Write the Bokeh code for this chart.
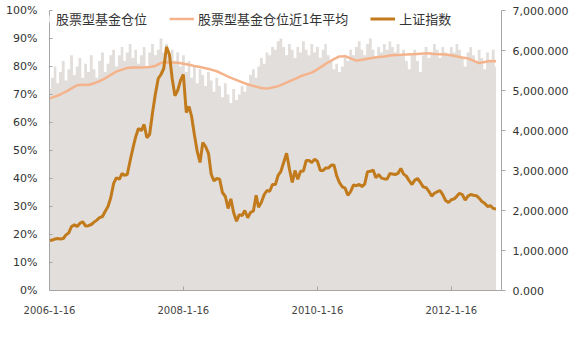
import pandas as pd
from bokeh.plotting import figure
from bokeh.models import (Range1d, LinearAxis, NumeralTickFormatter, FixedTicker,
                          Legend, LegendItem, ColumnDataSource)
from bokeh.embed import file_html
from bokeh.resources import INLINE

# ---------------- data ----------------
semi_dates = pd.date_range("2006-01-16", "2012-09-16", freq="SMS-16")
month_dates = pd.date_range("2006-01-16", "2012-09-16", freq=pd.DateOffset(months=1))

# 股票型基金仓位 (%), semi-monthly
position = [
    72, 76, 80, 74, 78, 82, 75, 79, 84, 77, 80, 83, 76, 81, 78, 84, 79, 76, 82, 85, 78, 81, 84,
    86, 80, 84, 87, 82, 85, 88, 83, 86, 81, 84, 87, 80, 85, 88, 84, 86, 90, 85, 88, 83, 86, 82, 85,
    80, 84, 78, 82, 76, 80, 74, 79, 77, 73, 78, 75, 71, 76, 73, 69, 74, 70, 67, 72, 68, 70, 73, 71,
    74, 77, 79, 76, 80, 83, 81, 85, 84, 87, 86, 89, 90, 87, 84, 88, 86, 83, 87, 85, 89, 86, 84, 88,
    85, 87, 83, 86, 88, 84, 82, 79, 81, 78, 80, 84, 82, 86, 84, 87, 89, 86, 84, 88, 90, 86, 83, 87,
    85, 88, 86, 89, 87, 85, 88, 84, 86, 82, 79, 84, 86, 82, 78, 84, 87, 83, 85, 88, 86, 83, 87, 85,
    84, 87, 85, 88, 86, 83, 80, 85, 87, 84, 82, 86, 83, 79, 85, 82, 86, 80,
]

# 上证指数, semi-monthly
sse = [
    1250, 1260, 1290, 1300, 1290, 1300, 1390, 1440, 1600, 1640, 1600, 1680, 1720,
    1610, 1620, 1650, 1710, 1760, 1820, 1850, 1980, 2100, 2320,
    2680, 2820, 2780, 2930, 2880, 2900, 3250, 3560, 3840, 4050, 4000, 4150,
    3820, 3900, 4450, 4900, 5300, 5400, 5550, 6090, 5900, 5300, 4870, 5000,
    5260, 5400, 4450, 4600, 4350, 3900, 3470, 3200, 3700, 3600, 3430, 2900,
    2740, 2800, 2780, 2450, 2350, 2050, 2290, 1950, 1730, 1900, 1870, 2000,
    1820, 1950, 1990, 2380, 2080, 2200, 2400, 2500, 2480, 2650, 2650, 2880,
    2980, 3200, 3430, 3050, 2700, 3000, 2780, 2980, 2990, 3250, 3250, 3200,
    3280, 3230, 3000, 3000, 3060, 3060, 3130, 3140, 2870, 2700, 2590, 2560,
    2380, 2470, 2640, 2620, 2650, 2600, 2660, 2970, 2980, 3010, 2820, 2900,
    2810, 2790, 2790, 2930, 2910, 2900, 2930, 3050, 2910, 2860, 2740, 2650,
    2760, 2800, 2700, 2590, 2570, 2480, 2360, 2430, 2470, 2500, 2390, 2250,
    2200, 2270, 2290, 2360, 2430, 2400, 2260, 2360, 2400, 2380, 2370, 2310,
    2225, 2180, 2100, 2120, 2050, 2040,
]

# 股票型基金仓位近1年平均 (%), monthly
avg_1y = [
    68.5, 69.3, 70.0, 71.0, 72.2, 73.3, 73.5, 73.4, 74.0, 74.8, 75.8, 77.0,
    78.2, 78.9, 79.5, 79.6, 79.6, 79.7, 79.8, 80.2, 81.3, 81.5, 81.4, 81.3,
    81.0, 80.6, 80.2, 79.8, 79.4, 78.9, 78.3, 77.4, 76.4, 75.6, 74.8, 74.0,
    73.3, 72.8, 72.3, 72.1, 72.5, 73.0, 73.8, 74.7, 75.6, 76.5, 77.2, 77.8,
    79.0, 80.3, 81.5, 82.6, 83.6, 83.7, 82.9, 82.1, 82.4, 82.8, 83.1, 83.4,
    83.6, 83.9, 84.1, 84.2, 84.3, 84.4, 84.5, 84.6, 84.7, 84.5, 84.4, 84.3,
    84.0, 83.6, 83.2, 82.9, 82.1, 81.2, 81.6, 82.0, 81.9,
]

x_tick_labels = ["2006-1-16", "2008-1-16", "2010-1-16", "2012-1-16"]
x_tick_dates = pd.to_datetime(["2006-01-16", "2008-01-16", "2010-01-16", "2012-01-16"])

# ---------------- figure ----------------
src_semi = ColumnDataSource(dict(x=semi_dates, pos=[v / 100 for v in position], sse=sse))
src_month = ColumnDataSource(dict(x=month_dates, avg=[v / 100 for v in avg_1y]))

p = figure(width=576, height=353, x_axis_type="datetime",
           x_range=(pd.Timestamp("2006-01-16"), pd.Timestamp("2012-10-16")),
           y_range=Range1d(0, 1), output_backend="svg", toolbar_location=None,
           min_border_left=49, min_border_right=75, min_border_top=10, min_border_bottom=63)
p.extra_y_ranges = {"idx": Range1d(0, 7000)}
p.xgrid.visible = False
p.ygrid.visible = False
p.outline_line_color = None
p.background_fill_color = "white"

area = p.varea_step(x="x", y1=0, y2="pos", step_mode="center", source=src_semi,
                    fill_color="#e2dedb")
avg_line = p.line("x", "avg", source=src_month, line_color="#f5b38c", line_width=2.5)
idx_line = p.line("x", "sse", source=src_semi, y_range_name="idx",
                  line_color="#c27b1c", line_width=3)

# axes
ax_font = "DejaVu Sans"
lab_col = "#333333"
axc = "#a6a6a6"

xa = p.xaxis[0]
xa.ticker = FixedTicker(ticks=[d.value // 10**6 for d in x_tick_dates])
xa.major_label_overrides = {float(d.value // 10**6): t for d, t in zip(x_tick_dates, x_tick_labels)}
xa.major_label_text_font = ax_font
xa.major_label_text_font_size = "10px"
xa.major_label_text_color = "#444444"
xa.major_label_standoff = 15
xa.axis_line_color = axc
xa.major_tick_line_color = axc
xa.major_tick_in = 4
xa.major_tick_out = 0
xa.minor_tick_line_color = None

ya = p.yaxis[0]
ya.ticker = FixedTicker(ticks=[i / 10 for i in range(11)])
ya.formatter = NumeralTickFormatter(format="0%")
ya.major_label_text_font = ax_font
ya.major_label_text_font_size = "11px"
ya.major_label_text_color = lab_col
ya.major_label_standoff = 12
ya.axis_line_color = axc
ya.major_tick_line_color = axc
ya.major_tick_in = 3
ya.major_tick_out = 0
ya.minor_tick_line_color = None

ra = LinearAxis(y_range_name="idx", ticker=FixedTicker(ticks=[i * 1000 for i in range(8)]),
                formatter=NumeralTickFormatter(format="0,0.000"))
ra.major_label_text_font = ax_font
ra.major_label_text_font_size = "11px"
ra.major_label_text_color = lab_col
ra.major_label_standoff = 7
ra.axis_line_color = axc
ra.major_tick_line_color = axc
ra.major_tick_in = 0
ra.major_tick_out = 4
ra.minor_tick_line_color = None
p.add_layout(ra, "right")

legend = Legend(items=[
    LegendItem(label="股票型基金仓位", renderers=[area]),
    LegendItem(label="股票型基金仓位近1年平均", renderers=[avg_line]),
    LegendItem(label="上证指数", renderers=[idx_line]),
], orientation="horizontal", location=(-22, 262))
legend.label_text_font = "Noto Sans CJK SC"
legend.label_text_font_size = "13px"
legend.label_text_color = "#333333"
legend.glyph_width = 25
legend.glyph_height = 9
legend.label_standoff = 4
legend.spacing = 22
legend.padding = 0
legend.margin = 0
legend.background_fill_alpha = 0
legend.border_line_alpha = 0
p.add_layout(legend, "center")

open("out.html", "w").write(file_html(p, INLINE))
